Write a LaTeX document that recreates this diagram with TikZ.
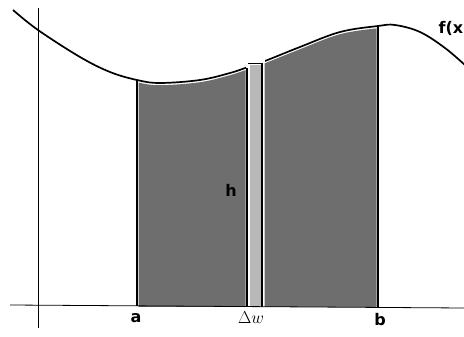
\documentclass[tikz,border=0pt]{standalone}
\usepackage{fontspec}
\newfontfamily\lblfont{DejaVu Sans}
\begin{document}
\begin{tikzpicture}[x=1pt,y=-1pt,
  darkfill/.style={fill=black!57},
  stripfill/.style={fill=black!28},
  curve/.style={line width=1.7pt,black},
  edge/.style={line width=1.4pt,black},
  axis/.style={line width=0.8pt,black},
  lbl/.style={font=\lblfont\bfseries\fontsize{16}{19}\selectfont,inner sep=0pt},
  mathlbl/.style={font=\fontsize{19}{22}\selectfont,inner sep=0pt}]
\useasboundingbox (0,0) rectangle (464,337);
\clip (0,0) rectangle (464,337);
\fill[white] (0,0) rectangle (464,337);
\def\curvepts{(13,10) (38,30) (80,57) (110,72) (137,80) (160,83) (200,80) (230,73) (248,67) (265,61) (300,47) (340,32) (378,26) (395,25) (420,32) (445,48) (466,66)}
% shaded regions
\begin{scope}
  \clip (138.5,0) rectangle (245.5,306);
  \fill[darkfill,yshift=-2.2pt] plot[smooth,tension=0.6] coordinates {\curvepts} -- (466,320) -- (0,320) -- cycle;
\end{scope}
\begin{scope}
  \clip (264.5,0) rectangle (376.5,306);
  \fill[darkfill,yshift=-2.2pt] plot[smooth,tension=0.6] coordinates {\curvepts} -- (466,320) -- (0,320) -- cycle;
\end{scope}
\fill[stripfill] (249.5,65) rectangle (260.5,306);
% axes
\draw[axis] (38,8) -- (38,328);
\draw[axis] (10,305) -- (464,308);
% curve (interrupted over the strip)
\begin{scope}
  \clip (0,0) rectangle (246,337);
  \draw[curve] plot[smooth,tension=0.6] coordinates {\curvepts};
\end{scope}
\begin{scope}
  \clip (265,0) rectangle (464,337);
  \draw[curve] plot[smooth,tension=0.6] coordinates {\curvepts};
\end{scope}
% vertical edges
\draw[edge] (137,80) -- (137,306);
\draw[edge] (247,68) -- (247,307);
\draw[edge] (262,64) -- (262,307);
\draw[edge] (378,26) -- (378,307);
\draw[edge] (248,63.5) -- (263,63.5);
% labels
\node[lbl] (la) at (136,318) {a};
\node[lbl] (lb) at (380,320) {b};
\node[lbl] (lh) at (231,190) {h};
\node[lbl,anchor=east] (lf) at (463.5,28) {f(x};
\node[mathlbl] (ldw) at (251,318) {$\Delta w$};
\end{tikzpicture}
\end{document}
